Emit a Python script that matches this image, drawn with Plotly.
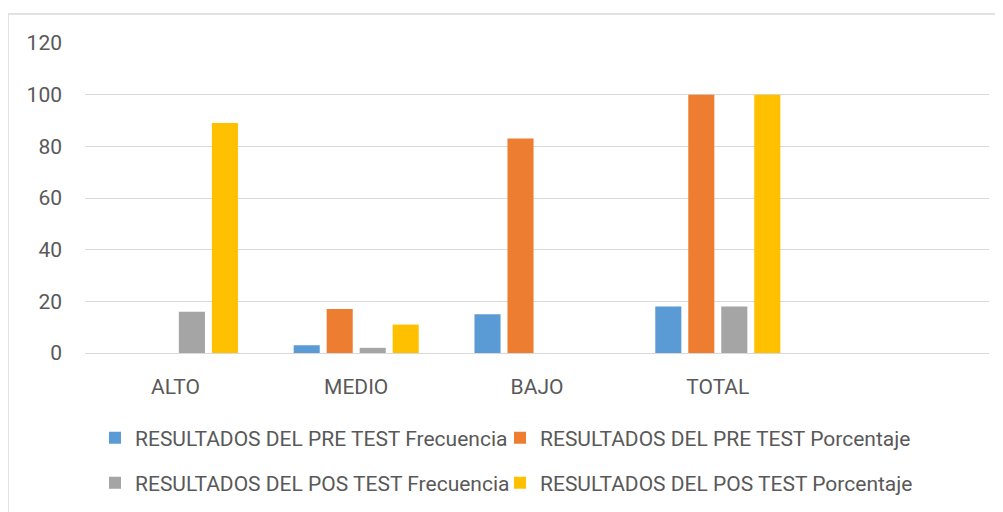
import plotly.graph_objects as go

categories = ["ALTO", "MEDIO", "BAJO", "TOTAL"]
series_names = [
    "RESULTADOS DEL PRE TEST Frecuencia",
    "RESULTADOS DEL PRE TEST Porcentaje",
    "RESULTADOS DEL POS TEST Frecuencia",
    "RESULTADOS DEL POS TEST Porcentaje",
]
pre_frecuencia = [0, 3, 15, 18]
pre_porcentaje = [0, 17, 83, 100]
pos_frecuencia = [16, 2, 0, 18]
pos_porcentaje = [89, 11, 0, 100]
colors = ["#5B9BD5", "#ED7D31", "#A5A5A5", "#FFC000"]
legend_ids = ["legend", "legend2", "legend3", "legend4"]
y_ticks = [0, 20, 40, 60, 80, 100, 120]

FONT = "Roboto, Arial, sans-serif"
TXT = "#595959"
FS = 21
W, H = 995, 504

fig = go.Figure()
for name, vals, col, lg in zip(series_names,
                               [pre_frecuencia, pre_porcentaje, pos_frecuencia, pos_porcentaje],
                               colors, legend_ids):
    fig.add_trace(go.Bar(x=categories, y=vals, name=name, marker_color=col,
                         marker_line_width=0, legend=lg))

leg_common = dict(orientation="h", xanchor="left", yanchor="middle",
                  xref="container", yref="container",
                  font=dict(family=FONT, size=FS, color=TXT),
                  itemwidth=30, bgcolor="rgba(0,0,0,0)", borderwidth=0)
col_x = [87 / W, 492 / W]
row_y = [1 - 430 / H, 1 - 475 / H]

fig.update_layout(
    width=W, height=H,
    margin=dict(l=77, r=14, t=35, b=159),
    paper_bgcolor="white", plot_bgcolor="white",
    barmode="group", bargap=0.27, bargroupgap=0.21,
    font=dict(family=FONT, size=FS, color=TXT),
    showlegend=True,
    legend=dict(x=col_x[0], y=row_y[0], **leg_common),
    legend2=dict(x=col_x[1], y=row_y[0], **leg_common),
    legend3=dict(x=col_x[0], y=row_y[1], **leg_common),
    legend4=dict(x=col_x[1], y=row_y[1], **leg_common),
    xaxis=dict(type="category", categoryorder="array", categoryarray=categories,
               range=[-0.5, 4.5], showgrid=False, zeroline=False,
               showline=False, ticks="", ticklabelstandoff=19,
               tickfont=dict(size=FS, color=TXT)),
    yaxis=dict(range=[0, 120], tickvals=y_ticks, showgrid=True, gridcolor="#D9D9D9",
               gridwidth=1, zeroline=True, zerolinecolor="#D9D9D9", zerolinewidth=1,
               showline=False, ticks="", ticklabelstandoff=22,
               tickfont=dict(size=FS, color=TXT)),
    shapes=[dict(type="rect", xref="paper", yref="paper",
                 x0=(8 - 85) / 904, x1=(1030 - 85) / 904,
                 y0=(353 - 540) / 310, y1=(353 - 14) / 310,
                 line=dict(color="#D9D9D9", width=1.5), fillcolor="rgba(0,0,0,0)",
                 layer="below")],
)

fig.write_html("out.html")
